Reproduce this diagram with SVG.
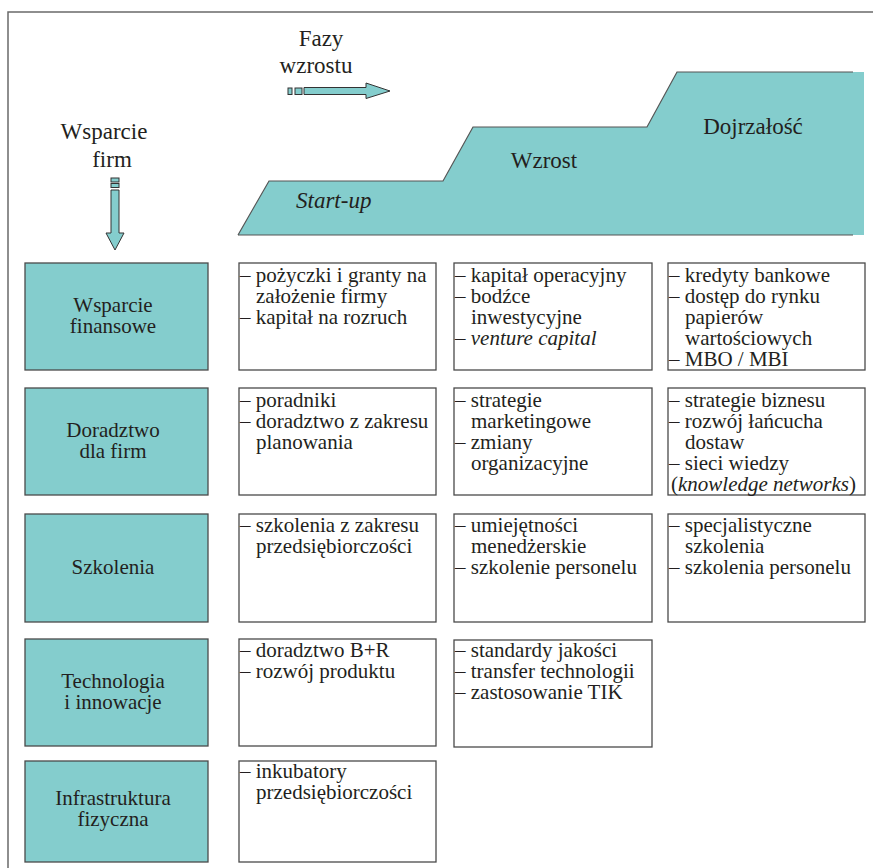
<svg xmlns="http://www.w3.org/2000/svg" width="873" height="868" viewBox="0 0 873 868" font-family="'Liberation Serif', 'Times New Roman', serif">
  <style>
    text { font-family: 'Liberation Serif', 'Times New Roman', serif; fill: #231f20; }
    .hdr { font-size: 23px; }
    .lbl { font-size: 21px; text-anchor: middle; }
    .item { font-size: 21px; }
    .it { font-style: italic; }
    .cat { fill: #84cdcd; stroke: #4a4a4a; stroke-width: 1.3; }
    .box { fill: #ffffff; stroke: #4a4a4a; stroke-width: 1.3; }
    .arr { fill: #84cdcd; stroke: #333333; stroke-width: 1; }
    .frame { fill: none; stroke: #6a6a6a; stroke-width: 1.5; }
  </style>

  <rect width="873" height="868" fill="#ffffff"/>

  <!-- outer frame: top and left rules -->
  <path class="frame" d="M873 12 H8 V868"/>

  <!-- growth phases staircase -->
  <g id="phases">
    <polygon points="238,235 269,181 443,181 473,127 647,127 677,72 864,72 864,235" fill="#84cdcd"/>
    <polyline points="238,235 269,181 443,181 473,127 647,127 677,72 853,72" fill="none" stroke="#555555" stroke-width="1.2"/>
    <line x1="238" y1="235" x2="853" y2="235" stroke="#555555" stroke-width="1.2"/>
    <text class="hdr it" x="296" y="208">Start-up</text>
    <text class="hdr" x="544" y="168" text-anchor="middle">Wzrost</text>
    <text class="hdr" x="753" y="134" text-anchor="middle">Dojrzałość</text>
  </g>

  <!-- axis headings with arrows -->
  <g id="connectors">
    <g id="phase-arrow">
      <text class="hdr" x="321" y="46" text-anchor="middle">Fazy</text>
      <text class="hdr" x="316" y="73" text-anchor="middle">wzrostu</text>
      <rect class="arr" x="288" y="88" width="4" height="6.5"/>
      <rect class="arr" x="295" y="88" width="7" height="6.5"/>
      <polygon class="arr" points="304,87.5 366,87.5 366,83 390,91 366,98.5 366,94.5 304,94.5"/>
    </g>
    <g id="support-arrow">
      <text class="hdr" x="104" y="139" text-anchor="middle">Wsparcie</text>
      <text class="hdr" x="112" y="167" text-anchor="middle">firm</text>
      <rect class="arr" x="111" y="178" width="8" height="4"/>
      <rect class="arr" x="111" y="183.5" width="8" height="4"/>
      <polygon class="arr" points="111,190 119,190 119,233 124,233 115,250 106,233 111,233"/>
    </g>
  </g>

  <!-- row 1: financial support -->
  <g id="row-finance">
    <rect class="cat" x="25" y="263" width="183" height="107"/>
    <text class="lbl" x="113" y="312">Wsparcie</text>
    <text class="lbl" x="113" y="333">finansowe</text>
  </g>
  <g id="finance-startup">
    <rect class="box" x="239" y="263" width="197" height="107"/>
    <text class="item"><tspan x="240" y="282">– pożyczki i granty na</tspan><tspan x="256" y="303">założenie firmy</tspan><tspan x="240" y="324">– kapitał na rozruch</tspan></text>
  </g>
  <g id="finance-growth">
    <rect class="box" x="454" y="263" width="198" height="107"/>
    <text class="item"><tspan x="455" y="282">– kapitał operacyjny</tspan><tspan x="455" y="303">– bodźce</tspan><tspan x="471" y="324">inwestycyjne</tspan><tspan x="455" y="345">– <tspan class="it">venture capital</tspan></tspan></text>
  </g>
  <g id="finance-maturity">
    <rect class="box" x="668" y="263" width="197" height="107"/>
    <text class="item"><tspan x="669" y="282">– kredyty bankowe</tspan><tspan x="669" y="303">– dostęp do rynku</tspan><tspan x="685" y="324">papierów</tspan><tspan x="685" y="345">wartościowych</tspan><tspan x="669" y="366">– MBO / MBI</tspan></text>
  </g>

  <!-- row 2: business advice -->
  <g id="row-advice">
    <rect class="cat" x="25" y="388" width="183" height="107"/>
    <text class="lbl" x="113" y="437">Doradztwo</text>
    <text class="lbl" x="113" y="458">dla firm</text>
  </g>
  <g id="advice-startup">
    <rect class="box" x="239" y="388" width="197" height="107"/>
    <text class="item"><tspan x="240" y="407">– poradniki</tspan><tspan x="240" y="428">– doradztwo z zakresu</tspan><tspan x="256" y="449">planowania</tspan></text>
  </g>
  <g id="advice-growth">
    <rect class="box" x="454" y="388" width="198" height="107"/>
    <text class="item"><tspan x="455" y="407">– strategie</tspan><tspan x="471" y="428">marketingowe</tspan><tspan x="455" y="449">– zmiany</tspan><tspan x="471" y="470">organizacyjne</tspan></text>
  </g>
  <g id="advice-maturity">
    <rect class="box" x="668" y="388" width="197" height="107"/>
    <text class="item"><tspan x="669" y="407">– strategie biznesu</tspan><tspan x="669" y="428">– rozwój łańcucha</tspan><tspan x="685" y="449">dostaw</tspan><tspan x="669" y="470">– sieci wiedzy</tspan><tspan x="671" y="491">(<tspan class="it">knowledge networks</tspan>)</tspan></text>
  </g>

  <!-- row 3: training -->
  <g id="row-training">
    <rect class="cat" x="25" y="514" width="183" height="108"/>
    <text class="lbl" x="113" y="574">Szkolenia</text>
  </g>
  <g id="training-startup">
    <rect class="box" x="239" y="514" width="197" height="108"/>
    <text class="item"><tspan x="240" y="532">– szkolenia z zakresu</tspan><tspan x="256" y="553">przedsiębiorczości</tspan></text>
  </g>
  <g id="training-growth">
    <rect class="box" x="454" y="514" width="198" height="108"/>
    <text class="item"><tspan x="455" y="532">– umiejętności</tspan><tspan x="471" y="553">menedżerskie</tspan><tspan x="455" y="574">– szkolenie personelu</tspan></text>
  </g>
  <g id="training-maturity">
    <rect class="box" x="668" y="514" width="197" height="108"/>
    <text class="item"><tspan x="669" y="532">– specjalistyczne</tspan><tspan x="685" y="553">szkolenia</tspan><tspan x="669" y="574">– szkolenia personelu</tspan></text>
  </g>

  <!-- row 4: technology and innovation -->
  <g id="row-technology">
    <rect class="cat" x="25" y="639" width="183" height="107"/>
    <text class="lbl" x="113" y="688">Technologia</text>
    <text class="lbl" x="113" y="709">i innowacje</text>
  </g>
  <g id="technology-startup">
    <rect class="box" x="239" y="639" width="197" height="107"/>
    <text class="item"><tspan x="240" y="657">– doradztwo B+R</tspan><tspan x="240" y="678">– rozwój produktu</tspan></text>
  </g>
  <g id="technology-growth">
    <rect class="box" x="454" y="640" width="198" height="107"/>
    <text class="item"><tspan x="455" y="657">– standardy jakości</tspan><tspan x="455" y="678">– transfer technologii</tspan><tspan x="455" y="699">– zastosowanie TIK</tspan></text>
  </g>

  <!-- row 5: physical infrastructure -->
  <g id="row-infrastructure">
    <rect class="cat" x="25" y="761" width="183" height="101"/>
    <text class="lbl" x="113" y="805">Infrastruktura</text>
    <text class="lbl" x="113" y="826">fizyczna</text>
  </g>
  <g id="infrastructure-startup">
    <rect class="box" x="239" y="761" width="197" height="101"/>
    <text class="item"><tspan x="240" y="778">– inkubatory</tspan><tspan x="256" y="799">przedsiębiorczości</tspan></text>
  </g>
</svg>
